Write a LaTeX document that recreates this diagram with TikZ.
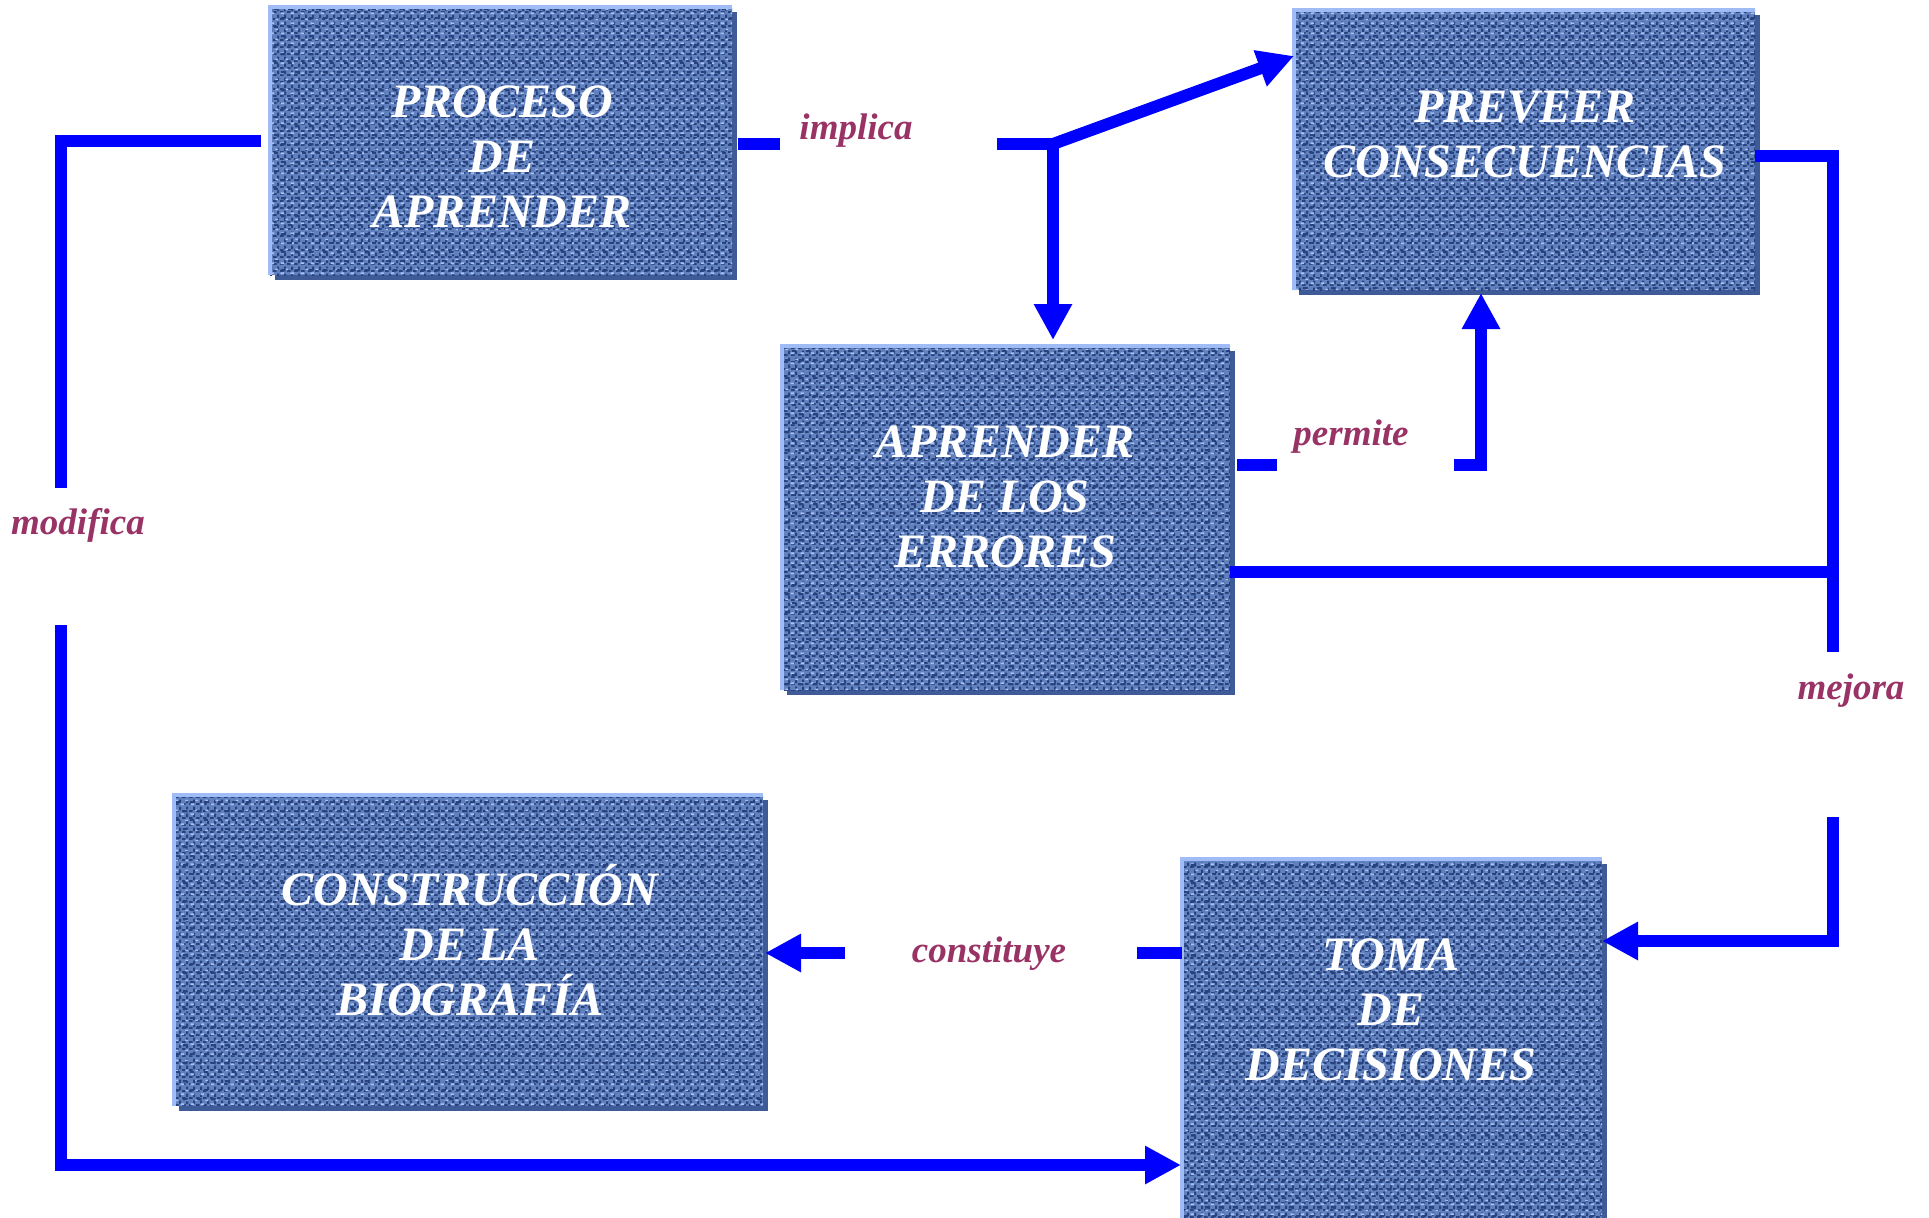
\documentclass[tikz,border=0pt]{standalone}
\usepackage{fontspec}
\setmainfont{Liberation Serif}
\usetikzlibrary{arrows.meta,patterns.meta,shadows}
\definecolor{boxfill}{HTML}{6080BE}
\definecolor{boxdark}{HTML}{28427E}
\definecolor{boxlight}{HTML}{A8C2F4}
\definecolor{boxedge}{HTML}{A0BCF6}
\definecolor{boxshadow}{HTML}{3F5B97}
\definecolor{connblue}{HTML}{0000FF}
\definecolor{lab}{HTML}{993366}
\tikzdeclarepattern{
  name=weavedark,
  type=uncolored,
  bottom left={(0pt,0pt)},
  top right={(3.5pt,3.5pt)},
  tile size={(3.5pt,3.5pt)},
  code={
    \fill (0pt,0pt) rectangle (2.1pt,1pt);
    \fill (2.4pt,1.1pt) rectangle (3.5pt,3.1pt);
  }
}
\tikzdeclarepattern{
  name=weavelight,
  type=uncolored,
  bottom left={(0pt,0pt)},
  top right={(5pt,5pt)},
  tile size={(5pt,5pt)},
  code={
    \fill (0.3pt,1.6pt) rectangle (2.2pt,2.5pt);
    \fill (3pt,3.8pt) rectangle (4.4pt,4.6pt);
  }
}
\tikzdeclarepattern{
  name=mottle,
  type=uncolored,
  bottom left={(0pt,0pt)},
  top right={(7pt,9pt)},
  tile size={(7pt,9pt)},
  code={
    \fill (0.5pt,5pt) rectangle (3pt,6.2pt);
    \fill (4.2pt,0.6pt) rectangle (6.4pt,1.5pt);
  }
}
\begin{document}
\begin{tikzpicture}[x=0.5pt,y=-0.5pt,
  fabric/.style={rectangle, inner sep=0pt, outer sep=0pt, fill=boxfill,
    general shadow={fill=boxshadow, shadow xshift=2.5pt, shadow yshift=-2.5pt},
    postaction={pattern=weavedark, pattern color=boxdark},
    postaction={pattern=weavelight, pattern color=boxlight},
    postaction={pattern=mottle, pattern color=boxdark}},
  edgeline/.style={draw=boxedge, line width=2pt},
  boxtext/.style={text=white, align=center, font=\fontsize{24}{27.5}\selectfont\bfseries\itshape},
  lbl/.style={text=lab, anchor=base, inner sep=0pt, font=\fontsize{18.5}{22}\selectfont\bfseries\itshape},
  conn/.style={draw=connblue, line width=6pt},
  arr/.style={conn, -{Triangle[width=18pt,length=18pt]}}
]
\useasboundingbox (0,0) rectangle (1929,1217);

% boxes
\node[fabric, minimum width=231pt, minimum height=134pt] (b1) at (501,141) {};
\node[fabric, minimum width=230.5pt, minimum height=140pt] (b2) at (1524.5,150) {};
\node[fabric, minimum width=224pt, minimum height=172pt] (b3) at (1006,518) {};
\node[fabric, minimum width=294.5pt, minimum height=155.5pt] (b4) at (468.5,950.5) {};
\node[fabric, minimum width=210pt, minimum height=190.5pt] (b5) at (1392,1049.5) {};
\foreach \b in {b1,b2,b3,b4,b5}{
  \draw[edgeline] (\b.south west) -- (\b.north west) -- (\b.north east);
}

% box texts
\node[boxtext] (t1) at (502,157) {PROCESO\\DE\\APRENDER};
\node[boxtext] (t2) at (1525,135) {PREVEER\\CONSECUENCIAS};
\node[boxtext] (t3) at (1005,497) {APRENDER\\DE LOS\\ERRORES};
\node[boxtext] (t4) at (470,940) {CONSTRUCCIÓN\\DE LA\\BIOGRAFÍA};
\node[boxtext] (t5) at (1391,1010) {TOMA\\DE\\DECISIONES};

% labels
\node[lbl] (implica) at (856,139) {implica};
\node[lbl] (permite) at (1351,445) {permite};
\node[lbl] (modifica) at (78,534) {modifica};
\node[lbl] (mejora) at (1851,699) {mejora};
\node[lbl] (constituye) at (989,962) {constituye};

% coordinates for connector ends
\coordinate (J1) at (1053,144);
\coordinate (imA) at (738,144);
\coordinate (imB) at (780,144);
\coordinate (imC) at (997,144);
\coordinate (tipB2) at (1294,56);
\coordinate (tipB3) at (1053,340);
\coordinate (m1) at (1755,156);
\coordinate (m3) at (1833,652);
\coordinate (e1) at (1230,572);
\coordinate (e2) at (1833,572);
\coordinate (m4) at (1833,817);
\coordinate (tipB5r) at (1602,941);
\coordinate (p1) at (1237,465);
\coordinate (p2) at (1277,465);
\coordinate (p3) at (1454,465);
\coordinate (tipB2b) at (1481,293);
\coordinate (c1) at (1137,953);
\coordinate (c0) at (1182,953);
\coordinate (c2) at (845,953);
\coordinate (tipB4) at (765,953);
\coordinate (k1) at (261,141);
\coordinate (k3) at (61,488);
\coordinate (k4) at (61,625);
\coordinate (tipB5l) at (1181,1165);

% implica
\draw[conn] (imA) -- (imB);
\draw[conn] (imC) -- (J1);
\draw[arr] (J1) -- (tipB2);
\draw[arr] (J1) -- (tipB3);
% mejora
\draw[conn] (m1) -| (m3);
\draw[conn] (e1) -- (e2);
\draw[arr] (m4) |- (tipB5r);
% permite
\draw[conn] (p1) -- (p2);
\draw[arr] (p3) -| (tipB2b);
% constituye
\draw[conn] (c1) -- (c0);
\draw[arr] (c2) -- (tipB4);
% modifica
\draw[conn] (k1) -| (k3);
\draw[arr] (k4) |- (tipB5l);
\end{tikzpicture}
\end{document}
